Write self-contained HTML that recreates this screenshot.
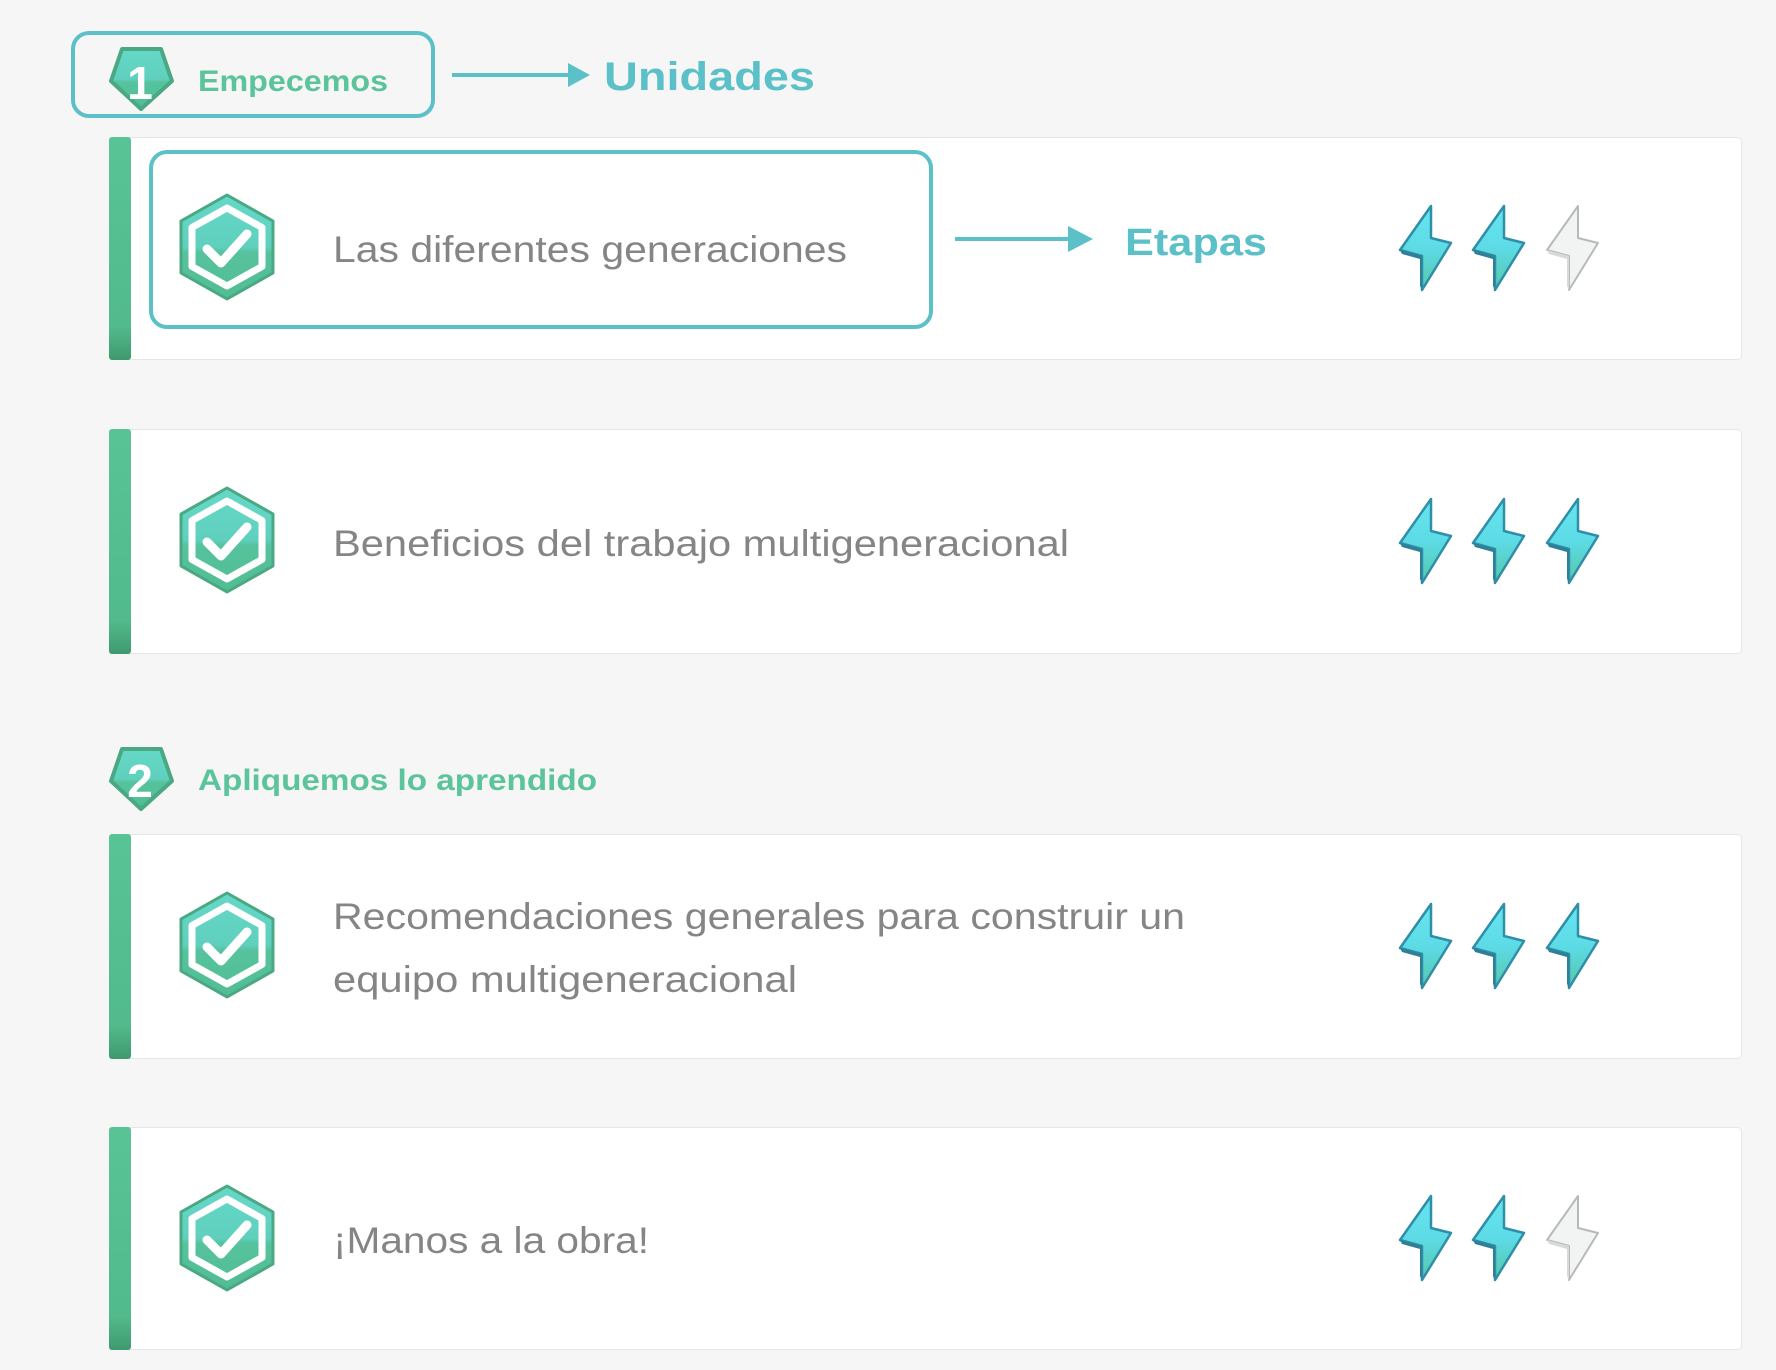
<!DOCTYPE html>
<html><head><meta charset="utf-8"><style>
html,body{margin:0;padding:0;background:#f6f6f6;}
svg{display:block}
text{font-family:"Liberation Sans",sans-serif;}
</style></head><body>
<svg width="1776" height="1370" viewBox="0 0 1776 1370" xmlns="http://www.w3.org/2000/svg">
<defs>
<linearGradient id="g" x1="0" y1="0" x2="0" y2="1">
<stop offset="0" stop-color="#66d8c8"/><stop offset="0.5" stop-color="#5fd0bd"/><stop offset="0.55" stop-color="#56c39e"/><stop offset="1" stop-color="#52bd93"/>
</linearGradient>
<linearGradient id="b" x1="0" y1="0" x2="0" y2="1">
<stop offset="0" stop-color="#66e6f0"/><stop offset="0.5" stop-color="#5ddbe6"/><stop offset="1" stop-color="#56c7a8"/>
</linearGradient>
<linearGradient id="bar" x1="0" y1="0" x2="0" y2="1">
<stop offset="0" stop-color="#58c496"/><stop offset="0.85" stop-color="#52ba8c"/><stop offset="1" stop-color="#3f9a6e"/>
</linearGradient>
<g id="hex">
<polygon points="0,-52 46,-26 46,26 0,52 -46,26 -46,-26" fill="url(#g)" stroke="#4aa882" stroke-width="3" stroke-linejoin="round"/>
<polygon points="0,-39 35,-19.5 35,19.5 0,39 -35,19.5 -35,-19.5" fill="none" stroke="#fff" stroke-width="7" stroke-linejoin="round"/>
<polyline points="-20,2 -6,16 20,-13" fill="none" stroke="#fff" stroke-width="9" stroke-linecap="round" stroke-linejoin="round"/>
</g>
<g id="bolt">
<polygon points="31,0 0,44 22,50 22,84 51,37 31,32" fill="url(#b)" stroke="#2f8ea8" stroke-width="2.5" stroke-linejoin="round"/>
<polygon points="0,44 22,50 22,84 20,80 20,53 2,48" fill="#2f7f98"/>
</g>
<g id="boltg">
<polygon points="31,0 0,44 22,50 22,84 51,37 31,32" fill="#f2f4f4" stroke="#b8baba" stroke-width="2" stroke-linejoin="round"/>
<polygon points="0,44 22,50 22,84 20,80 20,53 2,48" fill="#d8dada"/>
</g>
<g id="penta">
<polygon points="12,1 51,1 62,33 31,61 1,33" fill="url(#g)" stroke="#4aa882" stroke-width="4" stroke-linejoin="round"/>
</g>
</defs>

<rect x="73" y="33" width="360" height="83" rx="16" fill="none" stroke="#5bc0c8" stroke-width="4"/>
<use href="#penta" x="110" y="48"/>
<text x="140" y="99" text-anchor="middle" font-size="46" font-weight="bold" fill="#fff">1</text>
<text x="198" y="91" font-size="30" font-weight="bold" fill="#5bc49a" textLength="190" lengthAdjust="spacingAndGlyphs">Empecemos</text>
<line x1="452" y1="75" x2="572" y2="75" stroke="#5bc0c8" stroke-width="4"/>
<polygon points="568,63 590,75 568,87" fill="#5bc0c8"/>
<text x="604" y="90" font-size="40" font-weight="bold" fill="#5bc0c8" textLength="211" lengthAdjust="spacingAndGlyphs">Unidades</text>

<rect x="109.5" y="137.5" width="1632" height="222" rx="4" fill="#fff" stroke="#e6e6e6"/>
<rect x="109" y="137" width="22" height="223" rx="3" fill="url(#bar)"/>
<rect x="151" y="152" width="780" height="175" rx="16" fill="#fff" stroke="#5bc0c8" stroke-width="4"/>
<use href="#hex" x="227" y="247"/>
<text x="333" y="262" font-size="37" fill="#858585" textLength="514" lengthAdjust="spacingAndGlyphs">Las diferentes generaciones</text>
<line x1="955" y1="239" x2="1072" y2="239" stroke="#5bc0c8" stroke-width="4"/>
<polygon points="1068,226 1093,239 1068,252" fill="#5bc0c8"/>
<text x="1125" y="255" font-size="38" font-weight="bold" fill="#5bc0c8" textLength="142" lengthAdjust="spacingAndGlyphs">Etapas</text>
<use href="#bolt" x="1400" y="206"/><use href="#bolt" x="1473" y="206"/><use href="#boltg" x="1547" y="206"/>

<rect x="109.5" y="429.5" width="1632" height="224" rx="4" fill="#fff" stroke="#e6e6e6"/>
<rect x="109" y="429" width="22" height="225" rx="3" fill="url(#bar)"/>
<use href="#hex" x="227" y="540"/>
<text x="333" y="556" font-size="37" fill="#858585" textLength="736" lengthAdjust="spacingAndGlyphs">Beneficios del trabajo multigeneracional</text>
<use href="#bolt" x="1400" y="499"/><use href="#bolt" x="1473" y="499"/><use href="#bolt" x="1547" y="499"/>

<use href="#penta" x="110" y="748"/>
<text x="140" y="797" text-anchor="middle" font-size="46" font-weight="bold" fill="#fff">2</text>
<text x="198" y="790" font-size="30" font-weight="bold" fill="#5bc49a" textLength="399" lengthAdjust="spacingAndGlyphs">Apliquemos lo aprendido</text>

<rect x="109.5" y="834.5" width="1632" height="224" rx="4" fill="#fff" stroke="#e6e6e6"/>
<rect x="109" y="834" width="22" height="225" rx="3" fill="url(#bar)"/>
<use href="#hex" x="227" y="945"/>
<text x="333" y="929" font-size="37" fill="#858585" textLength="852" lengthAdjust="spacingAndGlyphs">Recomendaciones generales para construir un</text>
<text x="333" y="992" font-size="37" fill="#858585" textLength="464" lengthAdjust="spacingAndGlyphs">equipo multigeneracional</text>
<use href="#bolt" x="1400" y="904"/><use href="#bolt" x="1473" y="904"/><use href="#bolt" x="1547" y="904"/>

<rect x="109.5" y="1127.5" width="1632" height="222" rx="4" fill="#fff" stroke="#e6e6e6"/>
<rect x="109" y="1127" width="22" height="223" rx="3" fill="url(#bar)"/>
<use href="#hex" x="227" y="1238"/>
<text x="333" y="1253" font-size="37" fill="#858585" textLength="316" lengthAdjust="spacingAndGlyphs">¡Manos a la obra!</text>
<use href="#bolt" x="1400" y="1196"/><use href="#bolt" x="1473" y="1196"/><use href="#boltg" x="1547" y="1196"/>
</svg>
</body></html>
